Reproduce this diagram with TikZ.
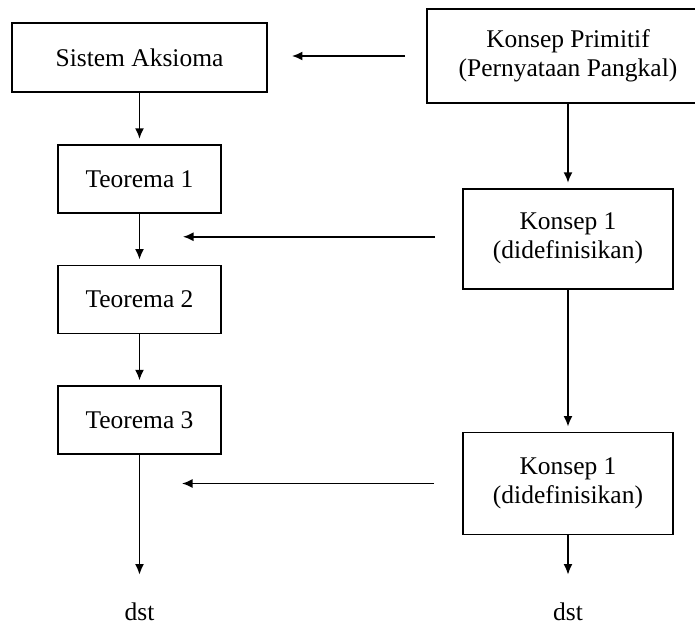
\documentclass[tikz,border=0pt]{standalone}
\usepackage{fontspec}
\setmainfont{Liberation Serif}
\usepackage{tikz}
\usetikzlibrary{positioning}
\usetikzlibrary{arrows.meta}

\begin{document}
\begin{tikzpicture}[
        box/.style = {
            draw,
            rectangle,
            line width = 1pt,
            minimum width = #1,
            inner sep = 0pt,
            align = center,
            font = \fontsize{14.5}{16.5}\selectfont
        },
        box/.default = 3.26cm,
        >={Latex[length=2.1mm, width=1.8mm]},
        node distance = {1.02cm}
        ]
        \useasboundingbox (0,0) rectangle (13.9,-12.48);
%
        \node[box=5.1cm, minimum height=1.38cm] (sa) at (2.79,-1.15) {Sistem Aksioma};
        \node[box, minimum height=1.36cm] (t1) [below=of sa] {Teorema 1};
        \node[box, minimum height=1.36cm] (t2) [below=of t1] {Teorema 2};
        \node[box, minimum height=1.36cm] (t3) [below=of t2] {Teorema 3};
%
        \node[box=5.6cm, minimum height=1.84cm, draw=none] (kp) at (11.36,-1.12) {Konsep Primitif\\(Pernyataan Pangkal)};
        \draw[line width = 1pt] ([xshift=1cm]kp.north east) -- (kp.north west) -- (kp.south west) -- ([xshift=1cm]kp.south east);
        \node[box=4.2cm, minimum height=2cm] (k1) [below=1.7cm of kp] {Konsep 1\\(didefinisikan)};
        \node[box=4.2cm, minimum height=2.04cm] (k2) [below=2.84cm of k1] {Konsep 1\\(didefinisikan)};
%
        \node[font=\fontsize{14.5}{16.5}\selectfont, inner sep=0pt] (dstL) at (t3 |- 0,-12.24) {dst};
        \node[font=\fontsize{14.5}{16.5}\selectfont, inner sep=0pt] (dstR) at (k2 |- 0,-12.24) {dst};
%
        \coordinate (e1) at (3.66,-4.7);
        \coordinate (e2) at (3.64,-9.6);
%
        \draw[->, line width = 1pt, shorten >=0.1cm] (sa) -- (t1);
        \draw[->, line width = 1pt, shorten >=0.1cm] (t1) -- (t2);
        \draw[->, line width = 1pt, shorten >=0.1cm] (t2) -- (t3);
        \draw[->, line width = 1pt, shorten >=0.56cm] (t3) -- (dstL);
%
        \draw[->, line width = 1pt, shorten >=0.1cm] (kp) -- (k1);
        \draw[->, line width = 1pt, shorten >=0.1cm] (k1) -- (k2);
        \draw[->, line width = 1pt, shorten >=0.56cm] (k2) -- (dstR);
%
        \draw[->, line width = 1pt, shorten <=0.44cm, shorten >=0.48cm] (kp.west) -- (kp.west -| sa.east);
        \draw[->, line width = 1pt, shorten <=0.54cm] ([yshift=0.04cm]k1.west) -- ([yshift=0.04cm]k1.west -| e1);
        \draw[->, line width = 1pt, shorten <=0.56cm] (k2.west) -- (k2.west -| e2);
%
\end{tikzpicture}
\end{document}
